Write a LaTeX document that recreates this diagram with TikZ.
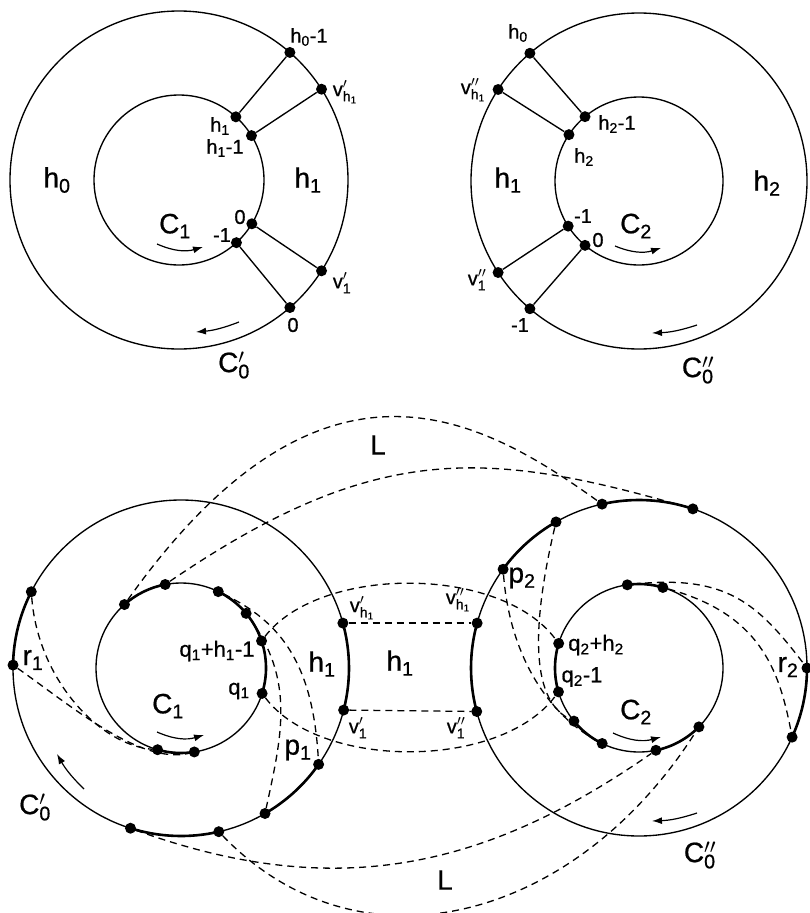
\documentclass[tikz,border=0pt]{standalone}
\usepackage{fontspec}
\setmainfont{Liberation Sans}[FakeBold=0.7]
\setmathrm{Liberation Sans}[FakeBold=0.7]
\usetikzlibrary{arrows.meta,calc}
\newcommand\vlab[2]{$\mathrm{v}#1_{#2}$}
\newcommand\clab[1]{$\mathrm{C}#1_{\mathrm{0}}$}
\begin{document}
\begin{tikzpicture}[x=1pt,y=-1pt,
 dot/.style={circle,fill=black,inner sep=0pt,minimum size=11pt},
 ring/.style={line width=1.35pt},
 thk/.style={line width=2.6pt},
 dsh/.style={line width=1.3pt,dash pattern=on 7pt off 5pt},
 sm/.style={inner sep=0pt,font=\fontsize{20}{20}\selectfont},
 smb/.style={inner sep=0pt,font=\fontsize{22}{22}\selectfont},
 bg/.style={inner sep=0pt,font=\fontsize{28}{28}\selectfont},
 arr/.style={line width=1.2pt,-{Latex[length=10pt,width=7pt]}}]
\useasboundingbox (0,0) rectangle (809,913);
% ---------------- top left
\coordinate (TLc) at (179,180);
\draw[ring] (TLc) circle[radius=169pt];
\draw[ring] (TLc) circle[radius=85pt];
\path (TLc) ++(49:169pt) node[dot] (tlo1) {};
\path (TLc) ++(32.5:169pt) node[dot] (tlo2) {};
\path (TLc) ++(-32.5:169pt) node[dot] (tlo3) {};
\path (TLc) ++(-49:169pt) node[dot] (tlo4) {};
\path (TLc) ++(48:85pt) node[dot] (tli1) {};
\path (TLc) ++(31.5:85pt) node[dot] (tli2) {};
\path (TLc) ++(-31:85pt) node[dot] (tli3) {};
\path (TLc) ++(-47.5:85pt) node[dot] (tli4) {};
\draw[ring] (tlo1) -- (tli1);
\draw[ring] (tlo2) -- (tli2);
\draw[ring] (tli3) -- (tlo3);
\draw[ring] (tli4) -- (tlo4);
\node[bg] (tlh0) at (57,180) {h\textsubscript{0}};
\node[bg] (tlh1) at (308,180) {h\textsubscript{1}};
\node[sm] (tlq1) at (309,37) {h\textsubscript{0}-1};
\node[sm] (tlq2) at (345,92) {\vlab{'}{\mathrm{h}_{\mathrm{1}}}};
\node[sm] (tlq3) at (220,126) {h\textsubscript{1}};
\node[sm] (tlq4) at (225,148) {h\textsubscript{1}-1};
\node[sm] (tlq5) at (240,217) {0};
\node[sm] (tlq6) at (222,235) {-1};
\node[sm] (tlq7) at (342,283) {\vlab{'}{\mathrm{1}}};
\node[sm] (tlq8) at (293,325) {0};
\node[bg] (tlC1) at (175,226) {C\textsubscript{1}};
\node[bg] (tlC0) at (234,365) {\clab{'}};
\coordinate (ta1s) at (157,244); \coordinate (ta1e) at (203,247);
\draw[arr] (ta1s) to[bend right=20] (ta1e);
\coordinate (ta2s) at (239,322); \coordinate (ta2e) at (196,332);
\draw[arr] (ta2s) to[bend left=8] (ta2e);
% ---------------- top right
\coordinate (TRc) at (639,181);
\draw[ring] (TRc) circle[radius=168pt];
\draw[ring] (TRc) circle[radius=84pt];
\path (TRc) ++(130.5:168pt) node[dot] (tro1) {};
\path (TRc) ++(147:168pt) node[dot] (tro2) {};
\path (TRc) ++(213:168pt) node[dot] (tro3) {};
\path (TRc) ++(229.5:168pt) node[dot] (tro4) {};
\path (TRc) ++(130:84pt) node[dot] (tri1) {};
\path (TRc) ++(146.5:84pt) node[dot] (tri2) {};
\path (TRc) ++(212.5:84pt) node[dot] (tri3) {};
\path (TRc) ++(230:84pt) node[dot] (tri4) {};
\draw[ring] (tro1) -- (tri1);
\draw[ring] (tro2) -- (tri2);
\draw[ring] (tri3) -- (tro3);
\draw[ring] (tri4) -- (tro4);
\node[bg] (trh1) at (508,180) {h\textsubscript{1}};
\node[bg] (trh2) at (767,183) {h\textsubscript{2}};
\node[sm] (trq1) at (518,33) {h\textsubscript{0}};
\node[sm] (trq2) at (473,90) {\vlab{''}{\mathrm{h}_{\mathrm{1}}}};
\node[sm] (trq3) at (617,124) {h\textsubscript{2}-1};
\node[sm] (trq4) at (584,157) {h\textsubscript{2}};
\node[sm] (trq5) at (583,216) {-1};
\node[sm] (trq6) at (598,240) {0};
\node[sm] (trq7) at (477,280) {\vlab{''}{\mathrm{1}}};
\node[sm] (trq8) at (520,325) {-1};
\node[bg] (trC2) at (636,226) {C\textsubscript{2}};
\node[bg] (trC0) at (698,370) {\clab{''}};
\coordinate (tb1s) at (615,246); \coordinate (tb1e) at (661,248);
\draw[arr] (tb1s) to[bend right=20] (tb1e);
\coordinate (tb2s) at (697,325); \coordinate (tb2e) at (652,333);
\draw[arr] (tb2s) to[bend left=8] (tb2e);
% ---------------- bottom left
\coordinate (BLc) at (181,668);
\draw[ring] (BLc) circle[radius=168pt];
\draw[ring] (BLc) circle[radius=85pt];
\draw[thk] (BLc) ++(153:168pt) arc[start angle=153, end angle=179, radius=168pt];
\draw[thk] (BLc) ++(-107.5:168pt) arc[start angle=-107.5, end angle=-77, radius=168pt];
\draw[thk] (BLc) ++(-60:168pt) arc[start angle=-60, end angle=-35, radius=168pt];
\draw[thk] (BLc) ++(-14.5:168pt) arc[start angle=-14.5, end angle=15.5, radius=168pt];
\draw[thk] (BLc) ++(100.7:85pt) arc[start angle=100.7, end angle=131.7, radius=85pt];
\draw[thk] (BLc) ++(-17.4:85pt) arc[start angle=-17.4, end angle=64, radius=85pt];
\draw[thk] (BLc) ++(-106:85pt) arc[start angle=-106, end angle=-81, radius=85pt];
\path (BLc) ++(153:168pt) node[dot] (blo1) {};
\path (BLc) ++(179:168pt) node[dot] (blo2) {};
\path (BLc) ++(15.5:168pt) node[dot] (blo3) {};
\path (BLc) ++(-14.5:168pt) node[dot] (blo4) {};
\path (BLc) ++(-35:168pt) node[dot] (blo5) {};
\path (BLc) ++(-60:168pt) node[dot] (blo6) {};
\path (BLc) ++(-77:168pt) node[dot] (blo7) {};
\path (BLc) ++(-107.5:168pt) node[dot] (blo8) {};
\path (BLc) ++(131.7:85pt) node[dot] (bli1) {};
\path (BLc) ++(100.7:85pt) node[dot] (bli2) {};
\path (BLc) ++(64:85pt) node[dot] (bli3) {};
\path (BLc) ++(40:85pt) node[dot] (bli4) {};
\path (BLc) ++(18.6:85pt) node[dot] (bli5) {};
\path (BLc) ++(-17.4:85pt) node[dot] (bli6) {};
\path (BLc) ++(-81:85pt) node[dot] (bli7) {};
\path (BLc) ++(-106:85pt) node[dot] (bli8) {};
% ---------------- bottom right
\coordinate (BRc) at (639,668);
\draw[ring] (BRc) circle[radius=168pt];
\draw[ring] (BRc) circle[radius=84pt];
\draw[thk] (BRc) ++(71.3:168pt) arc[start angle=71.3, end angle=102.7, radius=168pt];
\draw[thk] (BRc) ++(119.6:168pt) arc[start angle=119.6, end angle=144, radius=168pt];
\draw[thk] (BRc) ++(164.5:168pt) arc[start angle=164.5, end angle=195, radius=168pt];
\draw[thk] (BRc) ++(-24.3:168pt) arc[start angle=-24.3, end angle=0, radius=168pt];
\draw[thk] (BRc) ++(73.5:84pt) arc[start angle=73.5, end angle=98, radius=84pt];
\draw[thk] (BRc) ++(163:84pt) arc[start angle=163, end angle=196.5, radius=84pt];
\draw[thk] (BRc) ++(219.2:84pt) arc[start angle=219.2, end angle=244, radius=84pt];
\draw[thk] (BRc) ++(281.6:84pt) arc[start angle=281.6, end angle=315.5, radius=84pt];
\path (BRc) ++(102.7:168pt) node[dot] (bro1) {};
\path (BRc) ++(71.3:168pt) node[dot] (bro2) {};
\path (BRc) ++(119.6:168pt) node[dot] (bro3) {};
\path (BRc) ++(144:168pt) node[dot] (bro4) {};
\path (BRc) ++(164.5:168pt) node[dot] (bro5) {};
\path (BRc) ++(195:168pt) node[dot] (bro6) {};
\path (BRc) ++(0:168pt) node[dot] (bro7) {};
\path (BRc) ++(-24.3:168pt) node[dot] (bro8) {};
\path (BRc) ++(98:84pt) node[dot] (bri1) {};
\path (BRc) ++(73.5:84pt) node[dot] (bri2) {};
\path (BRc) ++(163:84pt) node[dot] (bri3) {};
\path (BRc) ++(196.5:84pt) node[dot] (bri4) {};
\path (BRc) ++(219.2:84pt) node[dot] (bri5) {};
\path (BRc) ++(244:84pt) node[dot] (bri6) {};
\path (BRc) ++(-78.4:84pt) node[dot] (bri7) {};
\path (BRc) ++(-44.5:84pt) node[dot] (bri8) {};
% ---------------- dashed connections
\draw[dsh] (bli1) .. controls (321,328) and (479,416) .. (bro1);
\draw[dsh] (bli2) .. controls (373,443) and (483,448) .. (bro2);
\draw[dsh] (blo8) .. controls (342,905) and (492,864) .. (bri7);
\draw[dsh] (blo7) .. controls (360,978) and (575,922) .. (bri8);
\draw[dsh] (bli5) .. controls (320,565) and (500,565) .. (bri3);
\draw[dsh] (bli6) .. controls (320,770) and (500,770) .. (bri4);
\draw[dsh] (blo3) -- (bro5);
\draw[dsh] (blo4) -- (bro6);
\draw[dsh] (bli3) .. controls (282,622) and (313,665) .. (blo5);
\draw[dsh] (bli4) .. controls (295,680) and (282,735) .. (blo6);
\draw[dsh] (blo1) .. controls (38,680) and (100,745) .. (bli8);
\draw[dsh] (blo2) .. controls (70,705) and (140,765) .. (bli7);
\draw[dsh] (bri1) .. controls (727,574) and (758,604) .. (bro7);
\draw[dsh] (bri2) .. controls (759,614) and (779,668) .. (bro8);
\draw[dsh] (bro4) .. controls (510,657) and (549,715) .. (bri6);
\draw[dsh] (bro3) .. controls (533,620) and (529,698) .. (bri5);
% ---------------- bottom labels
\node[bg] (bL1) at (378,445) {L};
\node[bg] (bL2) at (445,880) {L};
\node[bg] (br1) at (33,660) {r\textsubscript{1}};
\node[smb] (bq1) at (217,651) {q\textsubscript{1}+h\textsubscript{1}-1};
\node[smb] (bq2) at (239,691) {q\textsubscript{1}};
\node[bg] (bh1a) at (322,664) {h\textsubscript{1}};
\node[sm] (bv1) at (362,608) {\vlab{'}{\mathrm{h}_{\mathrm{1}}}};
\node[sm] (bv2) at (358,728) {\vlab{'}{\mathrm{1}}};
\node[bg] (bp1) at (298,750) {p\textsubscript{1}};
\node[bg] (bh1b) at (400,663) {h\textsubscript{1}};
\node[bg] (bC1) at (168,706) {C\textsubscript{1}};
\node[bg] (bC0a) at (35,807) {\clab{'}};
\node[bg] (bp2) at (522,578) {p\textsubscript{2}};
\node[sm] (bv3) at (458,600) {\vlab{''}{\mathrm{h}_{\mathrm{1}}}};
\node[smb] (bq3) at (596,645) {q\textsubscript{2}+h\textsubscript{2}};
\node[smb] (bq4) at (582,677) {q\textsubscript{2}-1};
\node[bg] (bC2) at (636,712) {C\textsubscript{2}};
\node[bg] (br2) at (788,667) {r\textsubscript{2}};
\node[sm] (bv4) at (456,728) {\vlab{''}{\mathrm{1}}};
\node[bg] (bC0b) at (700,855) {\clab{''}};
\coordinate (ba1s) at (157,732); \coordinate (ba1e) at (204,735);
\draw[arr] (ba1s) to[bend right=20] (ba1e);
\coordinate (ba2s) at (613,733); \coordinate (ba2e) at (661,737);
\draw[arr] (ba2s) to[bend right=20] (ba2e);
\coordinate (ba3s) at (84,789); \coordinate (ba3e) at (57,754);
\draw[arr] (ba3s) to[bend left=8] (ba3e);
\coordinate (ba4s) at (697,813); \coordinate (ba4e) at (652,821);
\draw[arr] (ba4s) to[bend left=8] (ba4e);
\end{tikzpicture}
\end{document}
